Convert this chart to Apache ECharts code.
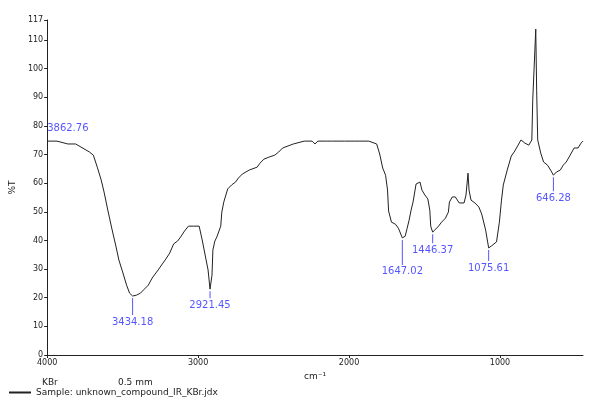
<!DOCTYPE html>
<html>
<head>
<meta charset="utf-8">
<script src="https://cdn.jsdelivr.net/npm/echarts@6/dist/echarts.min.js"></script>
<style>
html,body{margin:0;padding:0;background:#fff;}
#chart{width:589px;height:403px;}
</style>
</head>
<body>
<div id="chart"></div>
<script>
// Spectrum (wavenumber, cm-1 / transmittance, %)
const wavenumber = [3998,3935,3863,3811,3720,3694,3668,3642,3623,3597,3571,3545,3525,3500,3474,3454,3434,3408,3382,3356,3330,3304,3265,3233,3214,3188,3162,3136,3116,3090,3064,3032,2993,2973,2960,2947,2934,2921,2908,2902,2889,2876,2863,2850,2843,2830,2804,2778,2752,2733,2707,2661,2609,2590,2564,2531,2492,2466,2440,2369,2297,2245,2226,2206,2148,2109,2031,1966,1869,1817,1797,1777,1758,1745,1738,1719,1693,1673,1647,1628,1615,1602,1589,1576,1556,1530,1517,1498,1478,1465,1459,1446,1433,1407,1387,1361,1342,1335,1316,1296,1270,1238,1225,1212,1205,1192,1166,1140,1121,1095,1075,1056,1043,1023,1004,990,978,952,925,906,880,861,835,809,789,783,763,757,750,730,711,685,665,646,626,600,581,561,535,509,483,463,450];
const transmittance = [74.7,74.7,73.7,73.7,70.9,69.8,65.6,61.1,56.9,50.3,44.0,38.1,33.2,29.0,24.4,21.6,20.6,20.9,21.6,23.0,24.4,26.9,29.7,32.1,33.5,35.6,38.8,39.8,41.2,43.3,45.0,45.0,45.0,40.2,36.7,33.2,29.7,23.0,27.9,36.7,39.8,41.2,40.9,45.0,49.9,53.4,58.0,59.4,60.4,61.8,63.2,64.6,65.6,67.0,68.4,69.1,69.8,70.9,72.3,73.7,74.7,74.7,73.7,74.7,74.7,74.7,74.7,74.7,74.7,73.7,70.2,65.3,62.8,57.6,50.3,46.4,45.7,44.3,40.9,41.5,44.3,47.1,50.6,53.4,59.7,60.4,57.6,55.9,54.5,50.6,45.0,42.9,43.6,45.0,46.4,47.8,49.9,53.4,55.2,55.2,53.1,53.1,55.9,63.5,57.6,54.1,53.1,51.7,49.2,43.6,37.4,38.1,38.4,39.5,46.4,54.1,59.4,64.6,69.5,70.9,73.3,75.1,74.0,73.3,75.1,89.0,113.8,92.5,75.1,70.5,67.4,66.3,64.6,62.8,63.9,64.6,66.3,67.4,69.8,72.3,72.3,74.0,74.7];

// Annotated points
const peakWavenumber = [3863, 3434, 2921, 1647, 1446, 1075, 646];
const peakValue = [73.7, 20.6, 23.0, 40.9, 42.9, 37.4, 62.8];
const peakText = ['3862.76', '3434.18', '2921.45', '1647.02', '1446.37', '1075.61', '646.28'];

// x ticks / y ticks
const xTicks = [4000, 3500, 3000, 2500, 2000, 1500, 1000, 500];
const yTicks = [0, 10, 20, 30, 40, 50, 60, 70, 80, 90, 100, 110];

// layout only (stem length below each annotated point, px)
const stemLen = [0, 17, 7, 25, 9, 11, 14];

const BLUE = '#2b2bff';
const FONT = 'DejaVu Sans, sans-serif';
const SERIES_NAME = 'Sample: unknown_compound_IR_KBr.jdx';

const lineData = wavenumber.map((w, i) => [w, transmittance[i]]);
const peakData = peakWavenumber.map((w, i) => {
  const s = stemLen[i];
  if (s === 0) {
    return {
      value: [w, peakValue[i]],
      symbol: 'rect',
      symbolSize: [2, 2],
      itemStyle: { color: 'rgba(255,255,255,0)' },
      label: { show: true, position: 'top', distance: 10, formatter: peakText[i], color: BLUE }
    };
  }
  return {
    value: [w, peakValue[i]],
    symbol: 'rect',
    symbolSize: [1, s],
    symbolOffset: [0, s / 2 + 2],
    label: { show: true, position: 'bottom', distance: 2, formatter: peakText[i] }
  };
});

const chart = echarts.init(document.getElementById('chart'), null, { renderer: 'canvas' });
chart.setOption({
  animation: false,
  backgroundColor: '#ffffff',
  textStyle: { fontFamily: FONT },
  grid: { left: 37, right: 6, top: 20, bottom: 48, containLabel: false },
  legend: {
    left: 4, bottom: 1, itemWidth: 22, itemHeight: 2, itemGap: 6,
    icon: 'rect',
    data: [SERIES_NAME],
    textStyle: { fontSize: 9, color: '#222', fontFamily: FONT }
  },
  graphic: [
    { type: 'text', left: 42, top: 378, style: { text: 'KBr', fontSize: 9, fill: '#222', fontFamily: FONT } },
    { type: 'text', left: 118, top: 378, style: { text: '0.5 mm', fontSize: 9, fill: '#222', fontFamily: FONT } }
  ],
  xAxis: {
    type: 'value',
    inverse: true,
    min: xTicks[xTicks.length - 1] - 50,
    max: xTicks[0],
    name: 'cm⁻¹',
    nameLocation: 'middle',
    nameGap: 15,
    nameTextStyle: { fontSize: 9, color: '#222' },
    axisLine: { show: true, lineStyle: { color: '#222', width: 1 } },
    axisTick: { show: true, length: 3, lineStyle: { color: '#222' } },
    axisLabel: { fontSize: 8, color: '#222', margin: 4, showMinLabel: false, formatter: (v) => String(v) },
    splitLine: { show: false }
  },
  yAxis: {
    type: 'value',
    min: yTicks[0],
    max: 117,
    interval: yTicks[1] - yTicks[0],
    name: '%T',
    nameLocation: 'middle',
    nameGap: 21,
    nameRotate: 90,
    nameTextStyle: { fontSize: 9, color: '#222' },
    axisLine: { show: true, lineStyle: { color: '#222', width: 1 } },
    axisTick: { show: true, length: 3, lineStyle: { color: '#222' } },
    axisLabel: { fontSize: 8, color: '#222', margin: 4 },
    splitLine: { show: false }
  },
  series: [
    {
      name: SERIES_NAME,
      type: 'line',
      data: lineData,
      showSymbol: false,
      symbol: 'none',
      lineStyle: { color: '#222', width: 1 },
      itemStyle: { color: '#222' },
      z: 2
    },
    {
      name: 'peaks',
      type: 'scatter',
      data: peakData,
      itemStyle: { color: BLUE },
      label: { color: BLUE, fontSize: 10, fontFamily: FONT },
      labelLayout: { hideOverlap: false },
      z: 3
    }
  ]
});
</script>
</body>
</html>
